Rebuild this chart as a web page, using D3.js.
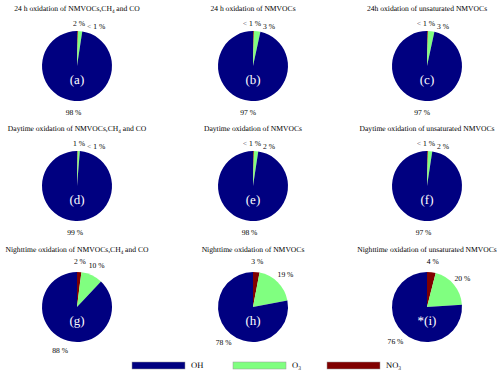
<!DOCTYPE html>
<html>
<head>
<meta charset="utf-8">
<script src="https://cdn.jsdelivr.net/npm/d3@7"></script>
<style>
  body { margin: 0; background: #fff; }
  svg text { text-rendering: geometricPrecision; }
</style>
</head>
<body>
<div class="chart"></div>
<script>
// species order, clockwise from 12 o'clock
const species = ["NO3", "O3", "OH"];
const colors = ["#800000", "#80ff80", "#000080"];

// [NO3, O3, OH] fractions in %
const values = [
  [0.4, 2, 97.6],
  [0.4, 3, 96.6],
  [0.4, 3, 96.6],
  [0.3, 1, 98.7],
  [0.4, 2, 97.6],
  [0.4, 2, 97.6],
  [2, 10, 88],
  [3, 19, 78],
  [4, 20, 76]
];
const labels = [
  ["< 1 %", "2 %", "98 %"],
  ["< 1 %", "3 %", "97 %"],
  ["< 1 %", "3 %", "97 %"],
  ["< 1 %", "1 %", "99 %"],
  ["< 1 %", "2 %", "98 %"],
  ["< 1 %", "2 %", "97 %"],
  ["2 %", "10 %", "88 %"],
  ["3 %", "19 %", "78 %"],
  ["4 %", "20 %", "76 %"]
];
const panelTags = ["(a)", "(b)", "(c)", "(d)", "(e)", "(f)", "(g)", "(h)", "*(i)"];
// titles: [before subscript, subscript, after]
const titles = [
  ["24 h oxidation of NMVOCs,CH", "4", " and CO"],
  ["24 h oxidation of NMVOCs", "", ""],
  ["24h oxidation of unsaturated NMVOCs", "", ""],
  ["Daytime oxidation of NMVOCs,CH", "4", " and CO"],
  ["Daytime oxidation of NMVOCs", "", ""],
  ["Daytime oxidation of unsaturated NMVOCs", "", ""],
  ["Nighttime oxidation of NMVOCs,CH", "4", " and CO"],
  ["Nighttime oxidation of NMVOCs", "", ""],
  ["Nighttime oxidation of unsaturated NMVOCs", "", ""]
];
const legendLabels = [["OH", ""], ["O", "3"], ["NO", "3"]];
const legendOrder = [2, 1, 0];

const width = 500, height = 375;
const font = "'Liberation Serif', 'Times New Roman', serif";
const colX = [77, 253, 427];
const rowY = [66, 186, 307];
const radius = 35;
const legendPos = [132, 233, 327];
// panels where the O3 label sits left of the NO3 label at the top
const swapTop = [true, false, false, true, false, false, false, false, false];

const svg = d3.select(".chart").append("svg")
  .attr("width", width)
  .attr("height", height)
  .style("font-family", font);

const pie = d3.pie().sort(null).value(d => d).startAngle(0).endAngle(2 * Math.PI);
const arc = d3.arc().innerRadius(0).outerRadius(radius);

function subText(sel, parts, subSize) {
  sel.append("tspan").text(parts[0]);
  if (parts[1]) {
    sel.append("tspan").attr("dy", 2).attr("font-size", subSize).text(parts[1]);
    sel.append("tspan").attr("dy", -2).text(parts[2]);
  }
}

values.forEach((vals, i) => {
  const cx = colX[i % 3], cy = rowY[Math.floor(i / 3)];
  const g = svg.append("g").attr("transform", "translate(" + cx + "," + cy + ")");

  const title = g.append("text")
    .attr("x", 0)
    .attr("y", -radius - 20)
    .attr("text-anchor", "middle")
    .attr("font-size", 7.6);
  subText(title, titles[i], 5.2);

  const arcs = pie(vals);
  g.selectAll("path")
    .data(arcs)
    .enter()
    .append("path")
    .attr("d", arc)
    .attr("fill", (d, j) => colors[j]);

  g.append("text")
    .attr("x", 0)
    .attr("y", 18)
    .attr("text-anchor", "middle")
    .attr("fill", "#fff")
    .attr("font-size", 13)
    .text(panelTags[i]);

  arcs.forEach((d, j) => {
    const small = vals[0] < 1;
    let x, y, anchor = "middle";
    if (small && j < 2) {
      const left = swapTop[i] ? (j === 1) : (j === 0);
      if (left) { x = 8; y = -radius - 5; anchor = "end"; }
      else { x = 10; y = -radius - 2; anchor = "start"; }
    } else {
      const a = (d.startAngle + d.endAngle) / 2;
      const r = radius + 11;
      x = r * Math.sin(a);
      y = -r * Math.cos(a) + 3;
    }
    g.append("text")
      .attr("x", x)
      .attr("y", y)
      .attr("text-anchor", anchor)
      .attr("font-size", 7.6)
      .text(labels[i][j]);
  });
});

// legend
legendOrder.forEach((k, n) => {
  const lx = legendPos[n];
  svg.append("rect")
    .attr("x", lx)
    .attr("y", 362)
    .attr("width", 53)
    .attr("height", 7)
    .attr("fill", colors[k])
    .attr("stroke", "#999")
    .attr("stroke-width", 0.5);
  const t = svg.append("text")
    .attr("x", lx + 59)
    .attr("y", 368)
    .attr("font-size", 8.5);
  subText(t, legendLabels[n], 5.5);
});
</script>
</body>
</html>
